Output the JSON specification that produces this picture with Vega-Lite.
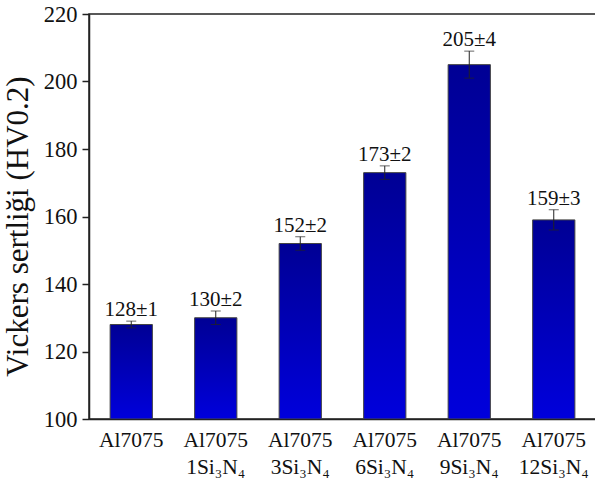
{
  "$schema": "https://vega.github.io/schema/vega-lite/v6.json",
  "autosize": "none",
  "padding": {"left": 89, "top": 14, "right": 0, "bottom": 65},
  "width": 507,
  "height": 405,
  "background": "white",
  "config": {
    "view": {"stroke": "#222", "strokeWidth": 1.5},
    "font": "Liberation Serif"
  },
  "data": {
    "values": [
      {"cat": "Al7075", "v": 128, "e": 1, "t": "128±1"},
      {"cat": "Al7075\n1Si₃N₄", "v": 130, "e": 2, "t": "130±2"},
      {"cat": "Al7075\n3Si₃N₄", "v": 152, "e": 2, "t": "152±2"},
      {"cat": "Al7075\n6Si₃N₄", "v": 173, "e": 2, "t": "173±2"},
      {"cat": "Al7075\n9Si₃N₄", "v": 205, "e": 4, "t": "205±4"},
      {"cat": "Al7075\n12Si₃N₄", "v": 159, "e": 3, "t": "159±3"}
    ]
  },
  "encoding": {
    "x": {
      "field": "cat", "type": "nominal", "sort": null,
      "scale": {"paddingInner": 0.5, "paddingOuter": 0.25},
      "axis": {
        "title": null, "labelAngle": 0, "ticks": false,
        "labelExpr": "split(datum.label, '\\n')",
        "labelFont": "Liberation Serif", "labelFontSize": 21.5, "labelColor": "#111",
        "labelLineHeight": 27, "labelPadding": 10,
        "domainColor": "#222", "domainWidth": 1.5
      }
    }
  },
  "layer": [
    {
      "mark": {
        "type": "bar", "stroke": "#444", "strokeWidth": 1, "clip": true,
        "fill": {
          "gradient": "linear", "x1": 0, "y1": 0, "x2": 0, "y2": 1,
          "stops": [
            {"offset": 0, "color": "#000094"},
            {"offset": 1, "color": "#0000DC"}
          ]
        }
      },
      "encoding": {
        "y": {
          "field": "v", "type": "quantitative", "title": "Vickers sertliği (HV0.2)",
          "scale": {"domain": [100, 220], "nice": false, "zero": false},
          "axis": {
            "title": "Vickers sertliği (HV0.2)",
            "titleFont": "Liberation Serif", "titleFontSize": 31, "titleFontWeight": "normal",
            "titleColor": "#111", "titleX": -71, "titleY": 212, "titleBaseline": "middle",
            "titleAlign": "center", "titleAngle": -90,
            "values": [100, 110, 120, 130, 140, 150, 160, 170, 180, 190, 200, 210, 220],
            "labelExpr": "datum.value % 20 === 0 ? datum.label : ''",
            "tickSize": {"condition": {"test": "datum.value % 20 === 0", "value": 7}, "value": 4},
            "tickColor": "#222", "tickWidth": 1.5,
            "labelFont": "Liberation Serif", "labelFontSize": 22.5, "labelColor": "#111",
            "labelPadding": 5, "grid": false,
            "domainColor": "#222", "domainWidth": 1.5
          }
        },
        "y2": {"datum": 100}
      }
    },
    {
      "mark": {"type": "errorbar", "ticks": {"size": 10, "color": "#222"}, "color": "#222", "thickness": 1},
      "encoding": {
        "y": {"field": "v", "type": "quantitative", "title": "Vickers sertliği (HV0.2)"},
        "yError": {"field": "e"}
      }
    },
    {
      "transform": [{"calculate": "datum.v + datum.e", "as": "hi"}],
      "mark": {"type": "text", "baseline": "alphabetic", "dy": -5, "font": "Liberation Serif", "fontSize": 21, "color": "#111"},
      "encoding": {
        "y": {"field": "hi", "type": "quantitative", "title": "Vickers sertliği (HV0.2)"},
        "text": {"field": "t"}
      }
    }
  ]
}
